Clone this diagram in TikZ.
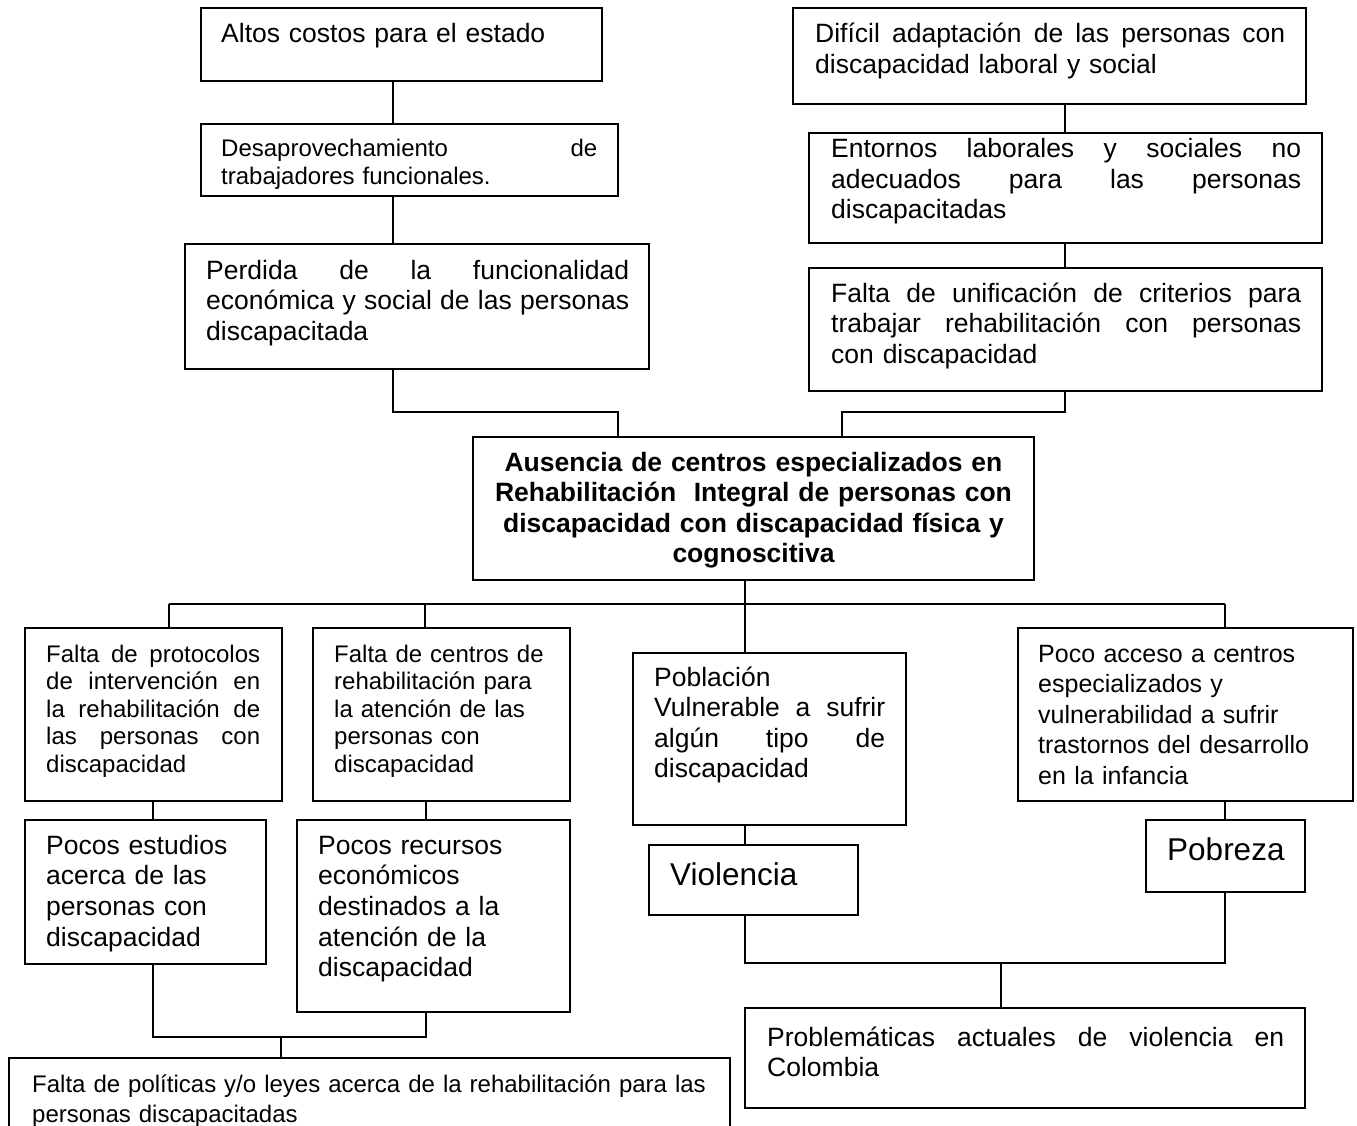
\documentclass[tikz,border=0pt]{standalone}
\usepackage{fontspec}
\setmainfont{Liberation Sans}
\newcommand\fs[2]{\fontsize{#1}{#2}\selectfont}
\newcommand\J[2]{\leavevmode\hbox to #1{\spaceskip=0.3em plus 10em\relax #2}}
\newcommand\mybox[5]{\node[boxst, minimum width={#4pt-#2pt}, minimum height={#5pt-#3pt}] (#1) at ({(#2+#4)/2},{(#3+#5)/2}) {};}
\begin{document}
\begin{tikzpicture}[x=1pt,y=-1pt,
  boxst/.style={draw, rectangle, inner sep=0pt, line width=1.6pt},
  tx/.style={inner sep=0pt, anchor=base west, align=left},
  con/.style={line width=1.6pt}]
\useasboundingbox (0,0) rectangle (1357,1126);
\clip (0,0) rectangle (1357,1126);
\fill[white] (0,0) rectangle (1357,1126);
% boxes
\mybox{A}{201}{8}{602}{81}
\mybox{B}{201}{124}{618}{196}
\mybox{C}{185}{244}{649}{369}
\mybox{E}{793}{8}{1306}{104}
\mybox{F}{809}{133}{1322}{243}
\mybox{G}{809}{268}{1322}{391}
\mybox{H}{473}{437}{1034}{580}
\mybox{I}{25}{628}{282}{801}
\mybox{J}{313}{628}{570}{801}
\mybox{K}{633}{653}{906}{825}
\mybox{L}{1018}{628}{1353}{801}
\mybox{M}{25}{820}{266}{964}
\mybox{N}{297}{820}{570}{1012}
\mybox{P}{649}{845}{858}{915}
\mybox{Q}{1146}{820}{1305}{892}
\mybox{O}{9}{1058}{730}{1160}
\mybox{R}{745}{1008}{1305}{1108}
% texts
\node[tx, font=\fs{26.5}{31}, text width=380pt] (At) at (221,43) {Altos costos para el estado};
\node[tx, font=\fs{24}{27.5}, text width=376pt] (Bt) at (221,157) {\J{376pt}{Desaprovechamiento de}\\trabajadores funcionales.};
\node[tx, font=\fs{26.5}{30.5}, text width=423pt] (Ct) at (206,279) {\J{423pt}{Perdida de la funcionalidad}\\\J{423pt}{económica y social de las personas}\\discapacitada};
\node[tx, font=\fs{26.5}{31}, text width=470pt] (Et) at (815,43) {\J{470pt}{Difícil adaptación de las personas con}\\discapacidad laboral y social};
\node[tx, font=\fs{26.5}{30.5}, text width=470pt] (Ft) at (831,158) {\J{470pt}{Entornos laborales y sociales no}\\\J{470pt}{adecuados para las personas}\\discapacitadas};
\node[tx, font=\fs{26.5}{30.5}, text width=470pt] (Gt) at (831,302) {\J{470pt}{Falta de unificación de criterios para}\\\J{470pt}{trabajar rehabilitación con personas}\\con discapacidad};
\node[inner sep=0pt, anchor=base, align=center, text width=540pt, font=\bfseries\fs{26.5}{30.5}] (Ht) at (753.5,471) {Ausencia de centros especializados en\\Rehabilitación~ Integral de personas con\\discapacidad con discapacidad física y\\cognoscitiva};
\node[tx, font=\fs{24}{27.5}, text width=214pt] (It) at (46,662) {\J{214pt}{Falta de protocolos}\\\J{214pt}{de intervención en}\\\J{214pt}{la rehabilitación de}\\\J{214pt}{las personas con}\\discapacidad};
\node[tx, font=\fs{24}{27.5}, text width=230pt] (Jt) at (334,662) {Falta de centros de\\rehabilitación para\\la atención de las\\personas con\\discapacidad};
\node[tx, font=\fs{26.5}{30.5}, text width=231pt] (Kt) at (654,686) {Población\\\J{231pt}{Vulnerable a sufrir}\\\J{231pt}{algún tipo de}\\discapacidad};
\node[tx, font=\fs{25}{30.5}, text width=305pt] (Lt) at (1038,662) {Poco acceso a centros\\especializados y\\vulnerabilidad a sufrir\\trastornos del desarrollo\\en la infancia};
\node[tx, font=\fs{26.5}{30.7}, text width=215pt] (Mt) at (46,854) {Pocos estudios\\acerca de las\\personas con\\discapacidad};
\node[tx, font=\fs{26.5}{30.7}, text width=245pt] (Nt) at (318,854) {Pocos recursos\\económicos\\destinados a la\\atención de la\\discapacidad};
\node[tx, font=\fs{31.5}{36}] (Pt) at (670,885) {Violencia};
\node[tx, font=\fs{31.5}{36}] (Qt) at (1167,860) {Pobreza};
\node[tx, font=\fs{26.5}{30}, text width=517pt] (Rt) at (767,1046) {\J{517pt}{Problemáticas actuales de violencia en}\\Colombia};
\node[tx, font=\fs{24}{30.5}, text width=690pt] (Ot) at (32,1092) {Falta de políticas y/o leyes acerca de la rehabilitación para las\\personas discapacitadas};
% junction coordinates
\coordinate (xa) at (393,0);
\coordinate (xe) at (1065,0);
\coordinate (j1) at (393,412);
\coordinate (j2) at (618,412);
\coordinate (j3) at (1065,412);
\coordinate (j4) at (842,412);
\coordinate (b0) at (745,604);
\coordinate (bl) at (169,604);
\coordinate (bj) at (425,604);
\coordinate (br) at (1225,604);
\coordinate (xm) at (153,0);
\coordinate (xn) at (426,0);
\coordinate (c1) at (153,1037);
\coordinate (c2) at (426,1037);
\coordinate (c3) at (281,1037);
\coordinate (d1) at (745,963);
\coordinate (d2) at (1225,963);
\coordinate (d3) at (1001,963);
% connectors
\draw[con] (A.south -| xa) -- (B.north -| xa);
\draw[con] (B.south -| xa) -- (C.north -| xa);
\draw[con] (C.south -| j1) -- (j1) -- (j2) -- (H.north -| j2);
\draw[con] (E.south -| xe) -- (F.north -| xe);
\draw[con] (F.south -| xe) -- (G.north -| xe);
\draw[con] (G.south -| j3) -- (j3) -- (j4) -- (H.north -| j4);
\draw[con] (H.south -| b0) -- (K.north -| b0);
\draw[con] (bl) -- (br);
\draw[con] (bl) -- (I.north -| bl);
\draw[con] (bj) -- (J.north -| bj);
\draw[con] (br) -- (L.north -| br);
\draw[con] (I.south -| xm) -- (M.north -| xm);
\draw[con] (J.south -| xn) -- (N.north -| xn);
\draw[con] (M.south -| c1) -- (c1) -- (c2) -- (N.south -| c2);
\draw[con] (c3) -- (O.north -| c3);
\draw[con] (K.south -| b0) -- (P.north -| b0);
\draw[con] (L.south -| br) -- (Q.north -| br);
\draw[con] (P.south -| d1) -- (d1) -- (d2) -- (Q.south -| d2);
\draw[con] (d3) -- (R.north -| d3);
\end{tikzpicture}
\end{document}
